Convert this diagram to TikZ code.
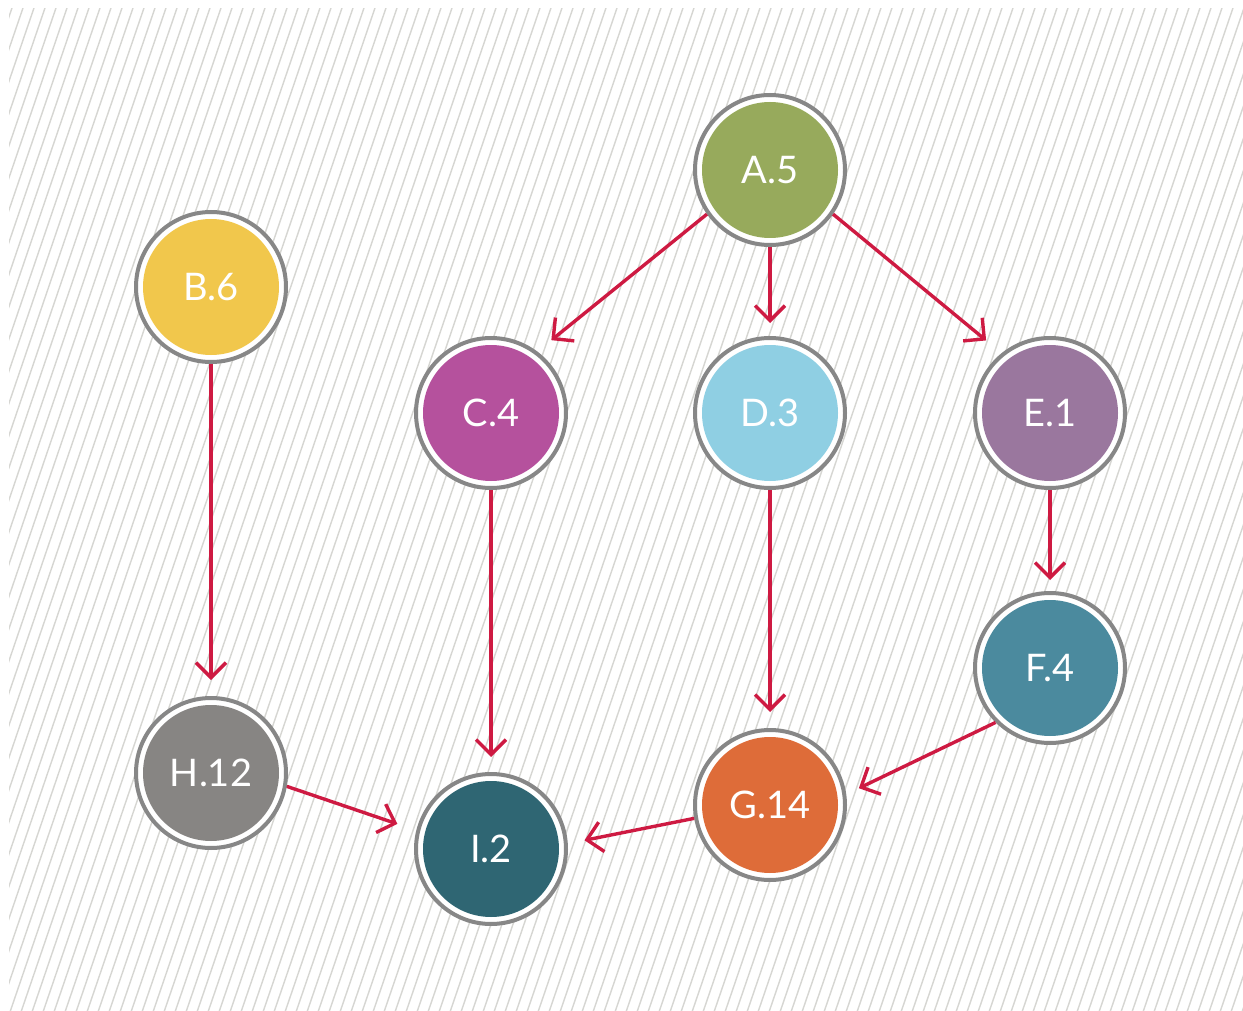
\documentclass[tikz,border=0pt]{standalone}
\usepackage{fontspec}
\setmainfont{Lato}
\usetikzlibrary{arrows.meta}

\definecolor{hatchgray}{HTML}{D6D6D2}
\definecolor{ringgray}{HTML}{878787}
\definecolor{linkred}{HTML}{CE1A42}
\definecolor{cA}{HTML}{97AA5C}
\definecolor{cB}{HTML}{F1C74C}
\definecolor{cC}{HTML}{B5519D}
\definecolor{cD}{HTML}{8FCFE3}
\definecolor{cE}{HTML}{9A779E}
\definecolor{cF}{HTML}{4B8A9E}
\definecolor{cG}{HTML}{DE6C39}
\definecolor{cH}{HTML}{878583}
\definecolor{cI}{HTML}{2F6673}

\begin{document}
\begin{tikzpicture}[x=1pt, y=-1pt,
  ball/.style={circle, minimum size=150pt, inner sep=0pt, line width=4pt,
    draw=ringgray, fill=white, text=white,
    font=\fontsize{38}{38}\selectfont,
    path picture={\fill[#1] (path picture bounding box.center) circle (68pt);}},
  link/.style={draw=linkred, line width=3.4pt,
    -{Straight Barb[length=15pt,width=30pt]}}]

  % canvas and hatched backdrop
  \useasboundingbox (0,0) rectangle (1243,1011);
  \fill[white] (0,0) rectangle (1243,1011);
  \begin{scope}
    \clip (9,9) rectangle (1243,1011);
    \foreach \k in {0,...,160} {
      \draw[hatchgray, line width=1.4pt] (-420+\k*11, 1015) -- ++(345,-1010);
    }
  \end{scope}

  % nodes
  \node[ball=cA] (A) at (770,170) {A.5};
  \node[ball=cB] (B) at (211,287) {B.6};
  \node[ball=cC] (C) at (491,413) {C.4};
  \node[ball=cD] (D) at (770,413) {D.3};
  \node[ball=cE] (E) at (1050,413) {E.1};
  \node[ball=cF] (F) at (1050,668) {F.4};
  \node[ball=cG] (G) at (770,805) {G.14};
  \node[ball=cH] (H) at (211,773) {H.12};
  \node[ball=cI] (I) at (491,849) {I.2};

  % connectors
  \draw[link, shorten >=18pt] (A.215) -- (C.53);
  \draw[link, shorten >=13pt] (A.south) -- (D.north);
  \draw[link, shorten >=20pt] (A.325) -- (E.129);
  \draw[link, shorten >=16pt] (B.south) -- (H.north);
  \draw[link, shorten >=15pt] (C.south) -- (I.north);
  \draw[link, shorten >=16pt] (D.south) -- (G.north);
  \draw[link, shorten >=11pt] (E.south) -- (F.north);
  \draw[link, shorten >=14pt] (F.225) -- (G.8);
  \draw[link, shorten >=17pt] (G.190) -- (I.4);
  \draw[link, shorten >=20pt] (H.350) -- (I.166);
\end{tikzpicture}
\end{document}
